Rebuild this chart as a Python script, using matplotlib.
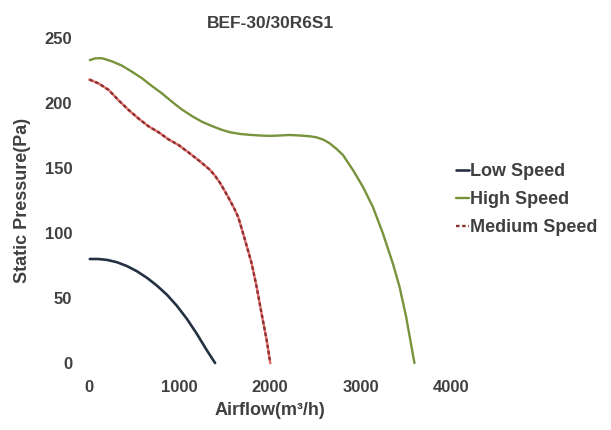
import matplotlib
matplotlib.use("Agg")
import matplotlib.pyplot as plt

# values
low_x = [9, 100, 200, 310, 421, 531, 641, 751, 861, 971, 1081, 1191, 1300, 1393]
low_y = [80, 80, 79.3, 77.5, 74.5, 70.5, 65.5, 59.5, 52.5, 44, 34, 22.5, 10, 0]

high_x = [9, 72, 145, 255, 365, 476, 586, 696, 806, 916, 1026, 1137, 1247,
          1375, 1470, 1558, 1668, 1779, 1889, 1999, 2109, 2219, 2329, 2440,
          2513, 2590, 2659, 2730, 2806, 2916, 3026, 3137, 3247, 3357, 3431,
          3504, 3596]
high_y = [233, 234.4, 234.4, 232, 228.7, 224, 219, 213, 207.4, 201, 195, 190,
          185.6, 181.8, 179.3, 177.5, 176.2, 175.5, 175, 174.7, 175, 175.4,
          175, 174.4, 173.6, 171.8, 169, 165, 160, 148.5, 135.6, 120, 99.8,
          76.7, 58.7, 35.6, 0]

med_x = [6, 108, 218, 328, 438, 548, 659, 769, 879, 989, 1118, 1228, 1338,
         1393, 1448, 1503, 1558, 1604, 1650, 1724, 1797, 1852, 1907, 1963, 2003]
med_y = [218, 215, 210, 202, 194.6, 188, 182, 177.5, 172, 167.7, 161, 155,
         148.5, 144, 138.5, 132, 125, 119, 112, 94.6, 76.7, 58.7, 38, 17.7, 0]

x_ticks = [0, 1000, 2000, 3000, 4000]
y_ticks = [0, 50, 100, 150, 200, 250]

TXT = "#404040"
plt.rcParams["font.family"] = ["Liberation Sans", "DejaVu Sans"]
plt.rcParams["font.weight"] = "bold"

fig = plt.figure(figsize=(6.11, 4.30), dpi=100)
ax = fig.add_axes([89 / 611, 1 - 363 / 430, (451 - 89) / 611, (363 - 38) / 430])

ax.plot(low_x, low_y, color="#243142", lw=1.9, label="Low Speed", clip_on=False,
        solid_capstyle="round", solid_joinstyle="round")
ax.plot(high_x, high_y, color="#77933C", lw=1.7, label="High Speed", clip_on=False,
        solid_capstyle="round", solid_joinstyle="round")
ax.plot(med_x, med_y, color="#E8706C", lw=1.7, clip_on=False,
        solid_joinstyle="round")
ax.plot(med_x, med_y, color="#8A3232", lw=1.7, ls=(0, (1.5, 1.1)),
        label="Medium Speed", clip_on=False)

ax.set_xlim(0, 4000)
ax.set_ylim(0, 250)
ax.set_xticks(x_ticks)
ax.set_yticks(y_ticks)
for s in ax.spines.values():
    s.set_visible(False)
ax.tick_params(length=0, labelsize=12, labelcolor=TXT)
ax.tick_params(axis="x", pad=12)
ax.tick_params(axis="y", pad=12)

ax.set_xlabel("Airflow(m³/h)", fontsize=13, color=TXT, fontweight="bold", labelpad=5)
ax.set_ylabel("Static Pressure(Pa)", fontsize=13, color=TXT, fontweight="bold", labelpad=10)
ax.set_title("BEF-30/30R6S1", fontsize=12.5, color=TXT, fontweight="bold", pad=7)

h, l = ax.get_legend_handles_labels()
leg = fig.legend(h, l, loc="upper left", bbox_to_anchor=(456 / 611, 1 - 163 / 430),
                 frameon=False, fontsize=13, handlelength=0.7, handletextpad=0.05,
                 labelspacing=0.62, borderpad=0, borderaxespad=0)
for t in leg.get_texts():
    t.set_color(TXT)

fig.savefig("out.png", dpi=100)
